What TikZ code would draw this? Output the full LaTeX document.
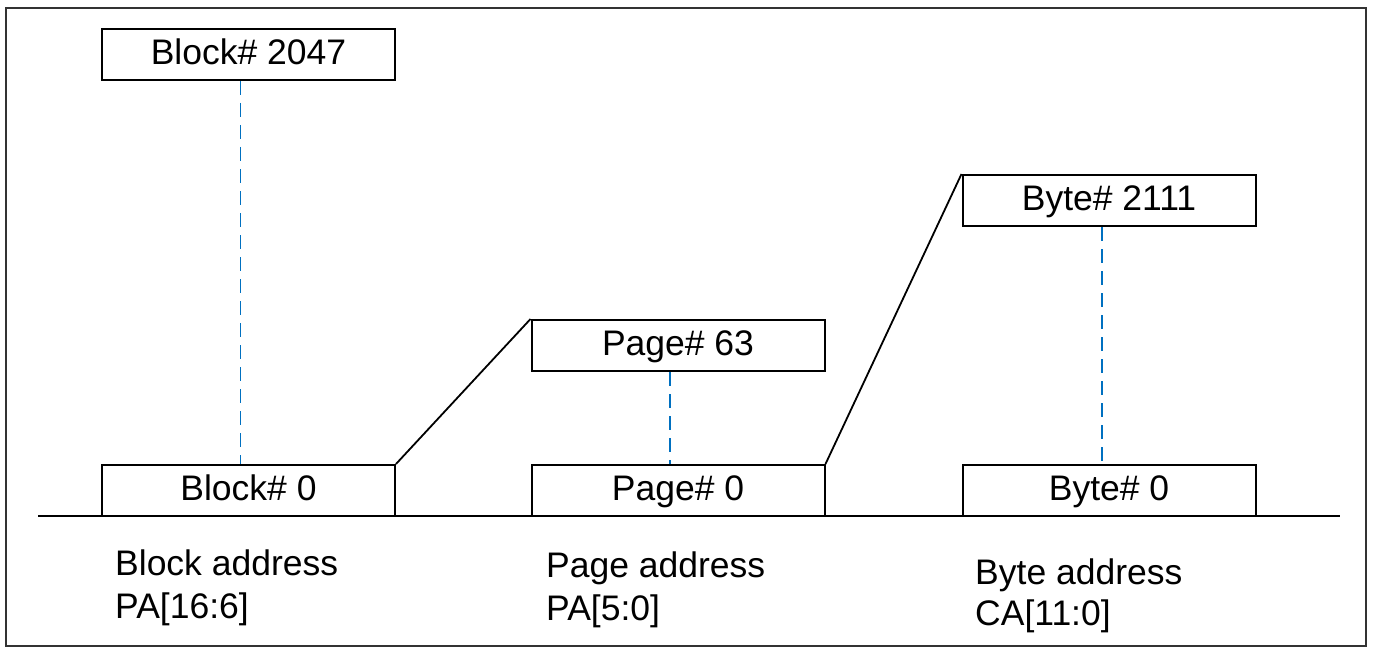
\documentclass[tikz,border=0pt]{standalone}
\usepackage{fontspec}
\setmainfont{Liberation Sans}
\usetikzlibrary{calc}
\definecolor{dashblue}{RGB}{0,112,192}
\tikzset{
  membox/.style={draw=black, line width=2pt, minimum width=293pt, minimum height=51pt, inner sep=0pt, text height=27pt, text depth=7pt, font=\fontsize{35.5}{42}\selectfont},
  bluedash/.style={draw=dashblue, line width=1.7pt, dash pattern=on 14pt off 8pt},
  zoomline/.style={draw=black, line width=1.8pt},
  lbl/.style={anchor=base west, inner sep=0pt, font=\fontsize{35.5}{42}\selectfont},
  frame/.style={draw=black!80, line width=1.6pt}
}
\begin{document}
\begin{tikzpicture}[x=1pt,y=-1pt]
\useasboundingbox (0,0) rectangle (1373,650);
\draw[frame] (6,8) rectangle (1366,646);
% boxes
\node[membox] (b2047) at (248.5,54.5) {Block\# 2047};
\node[membox] (b0) at (248.5,490.5) {Block\# 0};
\node[membox] (p63) at (678,345.5) {Page\# 63};
\node[membox] (p0) at (678,490.5) {Page\# 0};
\node[membox] (y2111) at (1109,200.5) {Byte\# 2111};
\node[membox] (y0) at (1109,490.5) {Byte\# 0};
% baseline
\coordinate (axl) at (38,516);
\coordinate (axr) at (1340,516);
\draw[line width=2pt] (axl) -- (axr);
% dashed
\draw[bluedash] ([xshift=-8pt]b2047.south) -- ([xshift=-8pt]b0.north);
\draw[bluedash] ([xshift=-8pt]p63.south) -- ([xshift=-8pt]p0.north);
\draw[bluedash] ([xshift=-7pt]y2111.south) -- ([xshift=-7pt]y0.north);
% zoom lines
\draw[zoomline] (b0.north east) -- (p63.north west);
\draw[zoomline] (p0.north east) -- (y2111.north west);
% labels
\node[lbl] (bl1) at (115,575) {Block address};
\node[lbl] (bl2) at (115,618) {PA[16:6]};
\node[lbl] (pl1) at (546,577) {Page address};
\node[lbl] (pl2) at (546,620) {PA[5:0]};
\node[lbl] (yl1) at (975,584) {Byte address};
\node[lbl] (yl2) at (975,625) {CA[11:0]};
\end{tikzpicture}
\end{document}
